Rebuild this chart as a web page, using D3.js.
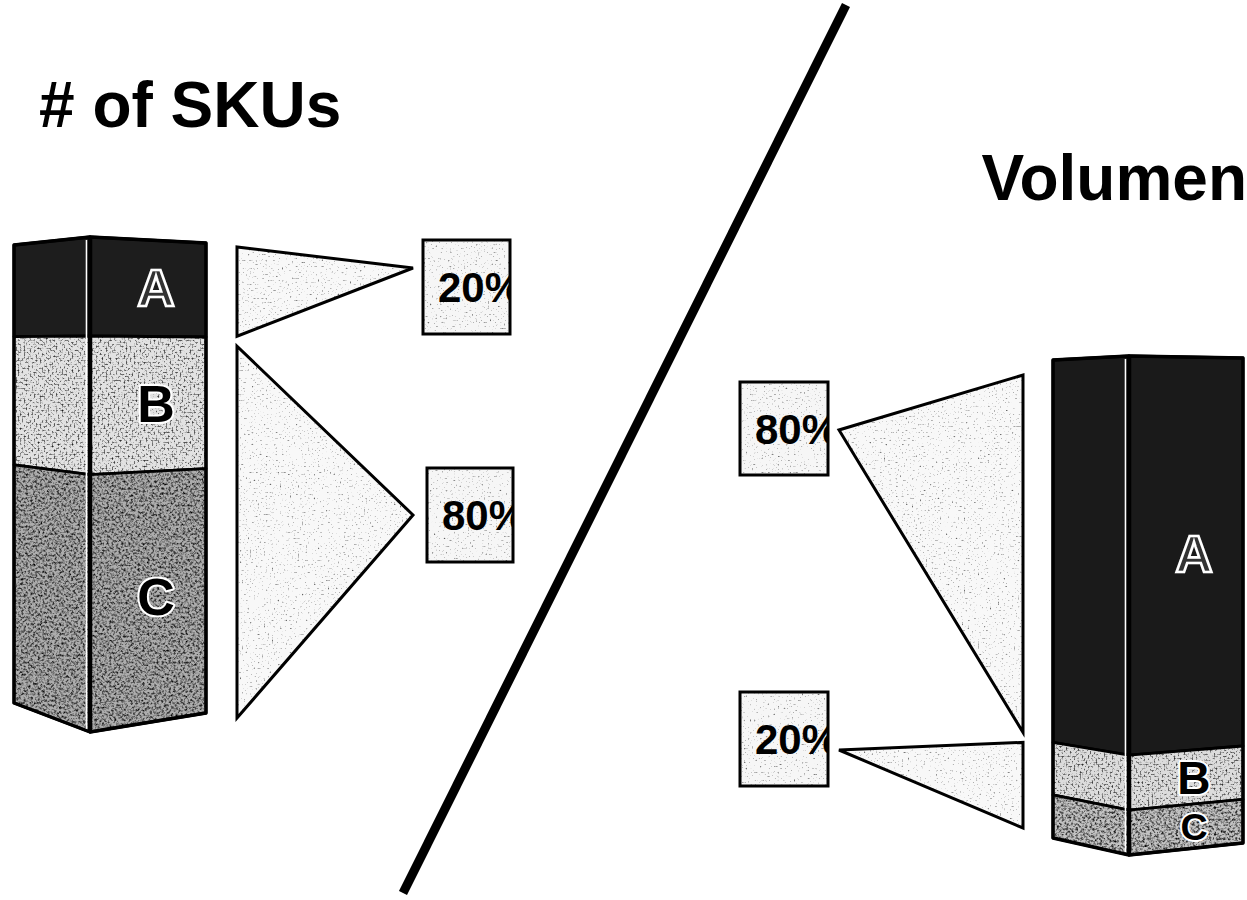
<!DOCTYPE html>
<html>
<head>
<meta charset="utf-8">
<script src="https://cdn.jsdelivr.net/npm/d3@7"></script>
<style>
  html, body { margin: 0; padding: 0; background: #fff; }
  svg { display: block; }
  text { font-family: "Liberation Sans", Arial, Helvetica, sans-serif; font-weight: bold; }
</style>
</head>
<body>
<svg id="chart" width="1247" height="900"></svg>
<script>
// ABC classification: share of SKUs vs share of volume (percent)
const categories   = ["A", "B", "C"];
const skuShare     = [20, 28, 52];
const volumeShare  = [80, 11, 9];
const panelTitles  = ["# of SKUs", "Volumen"];
// grouping of the classes for the brackets: A alone, then B + C
const groups       = [["A"], ["B", "C"]];

const svg = d3.select("#chart");
const defs = svg.append("defs");

// halftone-like grain used on the shaded surfaces
function grainFilter(id, seed, freq, slope, intercept) {
  const f = defs.append("filter").attr("id", id)
    .attr("x", 0).attr("y", 0).attr("width", 1).attr("height", 1)
    .attr("color-interpolation-filters", "sRGB");
  f.append("feTurbulence").attr("type", "fractalNoise")
    .attr("baseFrequency", freq).attr("numOctaves", 3).attr("seed", seed).attr("result", "n");
  f.append("feColorMatrix").attr("in", "n").attr("type", "matrix")
    .attr("values", "1 0 0 0 0  1 0 0 0 0  1 0 0 0 0  0 0 0 0 1").attr("result", "g");
  const ct = f.append("feComponentTransfer").attr("in", "g").attr("result", "gc");
  ["feFuncR", "feFuncG", "feFuncB"].forEach(fn =>
    ct.append(fn).attr("type", "linear").attr("slope", slope).attr("intercept", intercept));
  f.append("feBlend").attr("in", "SourceGraphic").attr("in2", "gc").attr("mode", "multiply").attr("result", "m");
  f.append("feComposite").attr("in", "m").attr("in2", "SourceGraphic").attr("operator", "in");
}
grainFilter("grain-sparse", 11, 0.5, 3.2, -0.1);
grainFilter("grain-light", 3, 0.5, 2.6, -0.3);
grainFilter("grain-mid", 7, 0.42, 2.2, -0.28);

// ---- layout of the two panels ----
const panels = [
  {
    title: panelTitles[0], values: skuShare,
    titleX: 39, titleY: 127, titleAnchor: "start",
    col: { xL: 14, xC: 90, xR: 206, yL: [703, 245], yC: [732, 237], yR: [713, 243] },
    fills: { A: "#1d1d1d", B: "#e2e2e2", C: "#adadad" },
    grains: { A: null, B: "grain-light", C: "grain-mid" },
    bracket: { baseX: 237, yRange: [718, 247], apexX: 413 },
    boxes: [
      { x: 423, y: 240, w: 87, h: 94, apexY: 268 },
      { x: 427, y: 468, w: 86, h: 94, apexY: 515 }
    ]
  },
  {
    title: panelTitles[1], values: volumeShare,
    titleX: 1247, titleY: 200, titleAnchor: "end",
    col: { xL: 1053, xC: 1129, xR: 1243, yL: [838, 360], yC: [855, 356], yR: [843, 358] },
    fills: { A: "#1a1a1a", B: "#dcdcdc", C: "#c2c2c2" },
    grains: { A: null, B: "grain-light", C: "grain-mid" },
    bracket: { baseX: 1023, yRange: [828, 375], apexX: 839 },
    boxes: [
      { x: 740, y: 382, w: 88, h: 93, apexY: 430 },
      { x: 740, y: 692, w: 88, h: 94, apexY: 750 }
    ]
  }
];

// divider between the panels
svg.append("line")
  .attr("x1", 403).attr("y1", 893)
  .attr("x2", 846).attr("y2", 5)
  .attr("stroke", "#000").attr("stroke-width", 9);

panels.forEach((p, pi) => {
  const g = svg.append("g").attr("class", "panel-" + pi);

  // title
  g.append("text")
    .attr("x", p.titleX).attr("y", p.titleY)
    .attr("text-anchor", p.titleAnchor)
    .attr("font-size", 64)
    .attr("fill", "#000")
    .text(p.title);

  // cumulative stack from the top: value 100 at top, 0 at bottom
  let top = 100;
  const stack = categories.map((c, i) => {
    const seg = { cat: c, value: p.values[i], top: top, bottom: top - p.values[i] };
    top -= p.values[i];
    return seg;
  });

  // one linear scale per vertical edge of the prism-like column
  const c = p.col;
  const yL = d3.scaleLinear().domain([0, 100]).range(c.yL);
  const yC = d3.scaleLinear().domain([0, 100]).range(c.yC);
  const yR = d3.scaleLinear().domain([0, 100]).range(c.yR);

  const col = g.append("g").attr("class", "column");
  stack.forEach(s => {
    const leftFace = [[c.xL, yL(s.top)], [c.xC, yC(s.top)], [c.xC, yC(s.bottom)], [c.xL, yL(s.bottom)]];
    const rightFace = [[c.xC, yC(s.top)], [c.xR, yR(s.top)], [c.xR, yR(s.bottom)], [c.xC, yC(s.bottom)]];
    [leftFace, rightFace].forEach(face => {
      const d = d3.line()(face) + "Z";
      const fp = col.append("path").attr("d", d).attr("fill", p.fills[s.cat]);
      if (p.grains[s.cat]) fp.attr("filter", "url(#" + p.grains[s.cat] + ")");
      col.append("path").attr("d", d)
        .attr("fill", "none")
        .attr("stroke", "#000")
        .attr("stroke-width", 2.8)
        .attr("stroke-linejoin", "round");
    });
  });

  // front edge of the column: white highlight next to a heavy black edge
  col.append("line")
    .attr("x1", c.xC - 3.5).attr("x2", c.xC - 3.5)
    .attr("y1", yC(100) + 3).attr("y2", yC(0) - 3)
    .attr("stroke", "#fff").attr("stroke-width", 1.6);
  col.append("line")
    .attr("x1", c.xC).attr("x2", c.xC)
    .attr("y1", yC(100)).attr("y2", yC(0))
    .attr("stroke", "#000").attr("stroke-width", 4.5);

  // outer outline
  const outline = [
    [c.xL, yL(100)], [c.xC, yC(100)], [c.xR, yR(100)],
    [c.xR, yR(0)], [c.xC, yC(0)], [c.xL, yL(0)]
  ];
  col.append("path")
    .attr("d", d3.line()(outline) + "Z")
    .attr("fill", "none").attr("stroke", "#000")
    .attr("stroke-width", 3.4).attr("stroke-linejoin", "round");

  // class letters on the wider face, sized to fit their segment
  stack.forEach(s => {
    const mid = (s.top + s.bottom) / 2;
    const lx = c.xC + (c.xR - c.xC) * 0.57;
    const ly = (yC(mid) + yR(mid)) / 2;
    const segH = ((yC(s.bottom) + yR(s.bottom)) - (yC(s.top) + yR(s.top))) / 2;
    const fs = Math.min(52, segH * 0.85);
    const t = col.append("text")
      .attr("x", lx).attr("y", ly)
      .attr("text-anchor", "middle")
      .attr("dominant-baseline", "central")
      .attr("font-size", fs)
      .text(s.cat);
    if (s.cat === "A") {
      t.attr("fill", "#333").attr("stroke", "#fff").attr("stroke-width", 2.6);
    } else {
      t.attr("fill", "#000").attr("stroke", "#fff").attr("stroke-width", 4)
        .attr("paint-order", "stroke").attr("stroke-linejoin", "round");
    }
  });

  // brackets (triangles) from the grouped classes to the percent boxes
  const b = p.bracket;
  const yB = d3.scaleLinear().domain([0, 100]).range(b.yRange);
  let gTop = 100;
  groups.forEach((grp, gi) => {
    const total = d3.sum(grp, k => p.values[categories.indexOf(k)]);
    const gBottom = gTop - total;
    const y1 = yB(gTop) + (gi === 0 ? 0 : 5);
    const y2 = yB(gBottom) - (gi === groups.length - 1 ? 0 : 5);
    const box = p.boxes[gi];
    const tri = d3.line()([[b.baseX, y1], [b.baseX, y2], [b.apexX, box.apexY]]) + "Z";
    g.append("path").attr("d", tri)
      .attr("fill", "#f8f8f8")
      .attr("filter", "url(#grain-sparse)");
    g.append("path").attr("d", tri)
      .attr("fill", "none")
      .attr("stroke", "#000").attr("stroke-width", 3)
      .attr("stroke-linejoin", "miter");

    // percent box, label clipped by its frame
    const clipId = "clip-" + pi + "-" + gi;
    defs.append("clipPath").attr("id", clipId)
      .append("rect").attr("x", box.x).attr("y", box.y)
      .attr("width", box.w).attr("height", box.h);
    g.append("rect")
      .attr("x", box.x).attr("y", box.y)
      .attr("width", box.w).attr("height", box.h)
      .attr("fill", "#f6f6f6")
      .attr("filter", "url(#grain-sparse)");
    g.append("text")
      .attr("clip-path", "url(#" + clipId + ")")
      .attr("x", box.x + 15).attr("y", box.y + box.h / 2 + 15)
      .attr("font-size", 42)
      .attr("fill", "#000")
      .text(total + "%");
    g.append("rect")
      .attr("x", box.x).attr("y", box.y)
      .attr("width", box.w).attr("height", box.h)
      .attr("fill", "none")
      .attr("stroke", "#000").attr("stroke-width", 3);

    gTop = gBottom;
  });
});
</script>
</body>
</html>
